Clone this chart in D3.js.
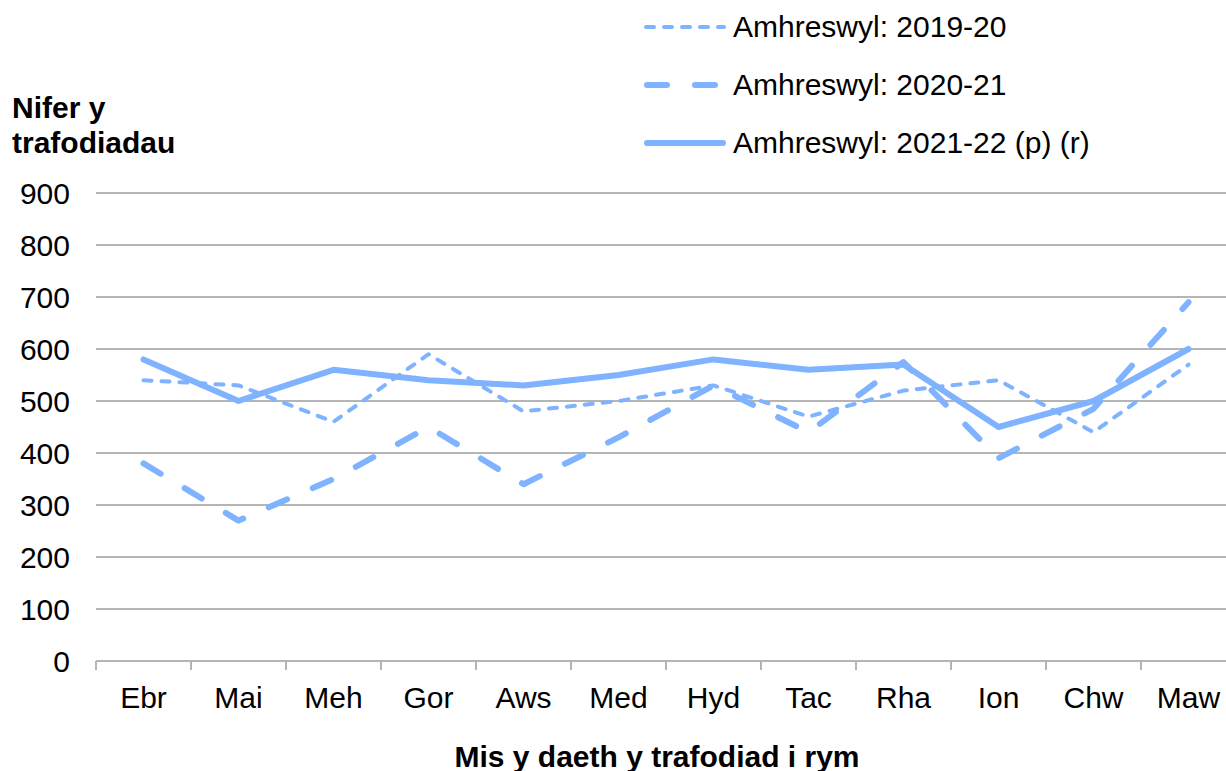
<!DOCTYPE html>
<html>
<head>
<meta charset="utf-8">
<script src="https://cdn.jsdelivr.net/npm/d3@7"></script>
<style>
  body { margin: 0; background: #fff; }
  svg { display: block; font-family: "Liberation Sans", Arial, sans-serif; }
</style>
</head>
<body>
<div id="chart"></div>
<script>
var months = ["Ebr","Mai","Meh","Gor","Aws","Med","Hyd","Tac","Rha","Ion","Chw","Maw"]

var seriesNames = ["Amhreswyl: 2019-20", "Amhreswyl: 2020-21", "Amhreswyl: 2021-22 (p) (r)"]

var values2019 = [540, 530, 460, 590, 480, 500, 530, 470, 520, 540, 440, 570]
var values2020 = [380, 270, 350, 450, 340, 430, 530, 440, 575, 390, 485, 690]
var values2021 = [580, 500, 560, 540, 530, 550, 580, 560, 570, 450, 500, 600]

var yTicks = [0, 100, 200, 300, 400, 500, 600, 700, 800, 900]

var width = 1226
var height = 771
var lineColor = "#7fb2ff"
var gridColor = "#b5b5b5"
var fontSize = "30px"

// line styles for each series, in order
var styles = [
  {width: 4, dash: "8,10", cap: "round"},
  {width: 6, dash: "20,28", cap: "round"},
  {width: 6, dash: null, cap: "round"}
]

var data = [values2019, values2020, values2021]

var x = d3.scaleBand()
  .domain(months)
  .range([96, 96 + 95 * months.length])
  .padding(0)

var y = d3.scaleLinear()
  .domain([0, 900])
  .range([661, 193])

const svg = d3.select("#chart").append("svg")
  .attr("width", width)
  .attr("height", height)

// gridlines
svg.append("g")
  .selectAll("line")
  .data(yTicks)
  .enter().append("line")
  .attr("x1", 96)
  .attr("x2", width)
  .attr("y1", d => y(d))
  .attr("y2", d => y(d))
  .attr("stroke", gridColor)
  .attr("stroke-width", 2)

// y tick labels
svg.append("g")
  .selectAll("text")
  .data(yTicks)
  .enter().append("text")
  .attr("x", 70)
  .attr("y", d => y(d))
  .attr("dy", "0.36em")
  .attr("text-anchor", "end")
  .style("font-size", fontSize)
  .attr("fill", "#000")
  .text(d => d)

// x tick marks at band edges
svg.append("g")
  .selectAll("line")
  .data(months)
  .enter().append("line")
  .attr("x1", d => x(d))
  .attr("x2", d => x(d))
  .attr("y1", y(0))
  .attr("y2", y(0) + 9)
  .attr("stroke", gridColor)
  .attr("stroke-width", 2)

// x labels
svg.append("g")
  .selectAll("text")
  .data(months)
  .enter().append("text")
  .attr("x", d => x(d) + x.bandwidth() / 2)
  .attr("y", 708)
  .attr("text-anchor", "middle")
  .style("font-size", fontSize)
  .attr("fill", "#000")
  .text(d => d)

// axis titles
const yTitle = svg.append("text")
  .style("font-size", fontSize)
  .style("font-weight", "bold")
  .attr("fill", "#000")
yTitle.append("tspan").attr("x", 12).attr("y", 118).text("Nifer y")
yTitle.append("tspan").attr("x", 12).attr("y", 153).text("trafodiadau")

svg.append("text")
  .attr("x", 657)
  .attr("y", 767)
  .attr("text-anchor", "middle")
  .style("font-size", fontSize)
  .style("font-weight", "bold")
  .attr("fill", "#000")
  .text("Mis y daeth y trafodiad i rym")

// series lines
var line = d3.line()
  .x((d, i) => x(months[i]) + x.bandwidth() / 2)
  .y(d => y(d))

svg.append("g")
  .selectAll("path")
  .data(data)
  .enter().append("path")
  .attr("d", d => line(d))
  .attr("fill", "none")
  .attr("stroke", lineColor)
  .attr("stroke-width", (d, i) => styles[i].width)
  .attr("stroke-dasharray", (d, i) => styles[i].dash)
  .attr("stroke-linecap", (d, i) => styles[i].cap)
  .attr("stroke-linejoin", "round")

// legend
const legend = svg.append("g")
  .selectAll("g")
  .data(seriesNames)
  .enter().append("g")
  .attr("transform", (d, i) => `translate(644, ${37 + i * 58})`)

legend.append("line")
  .attr("x1", (d, i) => styles[i].width / 2)
  .attr("x2", (d, i) => 82 - styles[i].width / 2)
  .attr("y1", -10)
  .attr("y2", -10)
  .attr("stroke", lineColor)
  .attr("stroke-width", (d, i) => styles[i].width)
  .attr("stroke-dasharray", (d, i) => styles[i].dash)
  .attr("stroke-linecap", (d, i) => styles[i].cap)

legend.append("text")
  .attr("x", 89)
  .attr("y", 0)
  .style("font-size", fontSize)
  .attr("fill", "#000")
  .text(d => d)
</script>
</body>
</html>
